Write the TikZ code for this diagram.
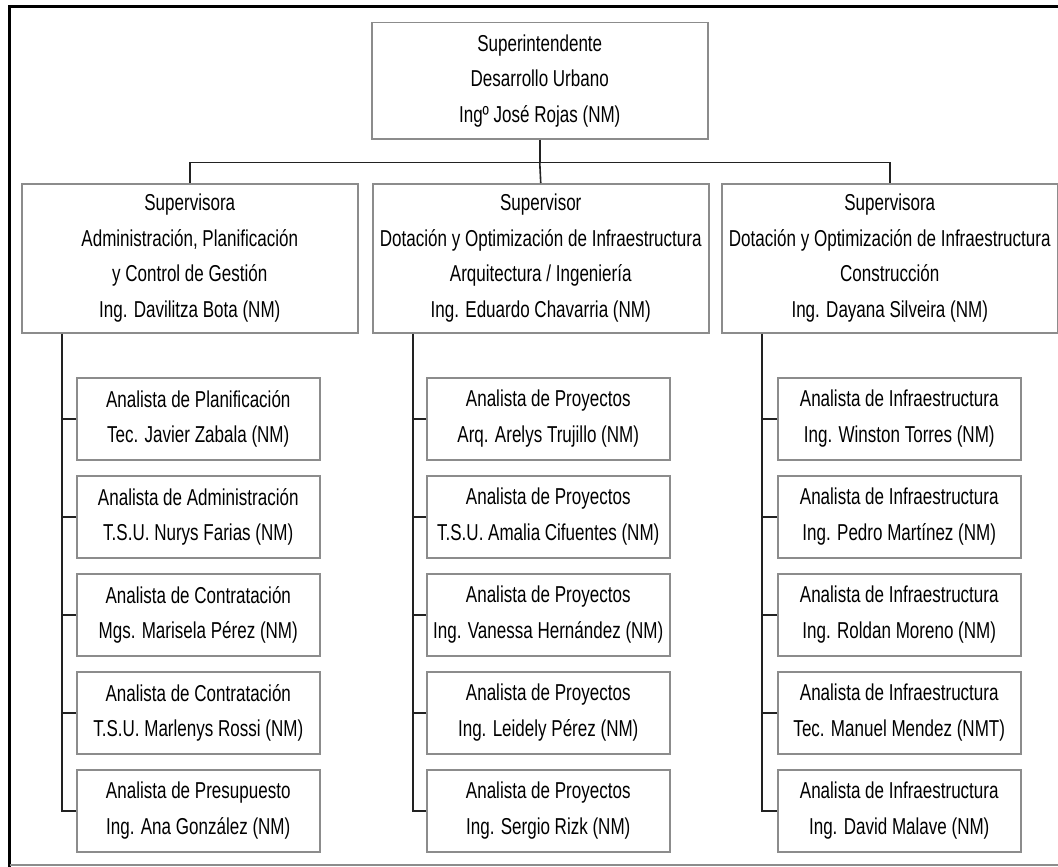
\documentclass[tikz,border=0pt]{standalone}
\usepackage{fontspec}
\setmainfont[FakeStretch=0.74]{Liberation Sans}
\definecolor{boxgray}{HTML}{8C8C8C}
\definecolor{congray}{HTML}{222222}
\begin{document}
\begin{tikzpicture}[x=1pt,y=-1pt,
  box/.style={draw=boxgray,line width=1.5pt,fill=white,inner sep=0pt,align=center,
    font=\fontsize{23}{35.6}\selectfont,anchor=north west},
  sup/.style={box,minimum width=336pt,minimum height=149pt},
  kid/.style={box,minimum width=243pt,minimum height=82pt},
  con/.style={draw=congray,line width=1.6pt}]
\useasboundingbox[fill=white] (0,0) rectangle (1058,867);
% frame
\draw[line width=3pt,black] (9.5,867) -- (9.5,7) -- (1058,7);
\draw[line width=1.2pt,boxgray] (9.5,865) -- (1058,865);
% top
\node[box,minimum width=336pt,minimum height=116pt] (top) at (371,22)
  {Superintendente\\Desarrollo Urbano\\Ingº José Rojas (NM)};
% supervisors
\node[sup] (s1) at (21,183) {Supervisora\\Administración, Planificación\\y Control de Gestión\\Ing. Davilitza Bota (NM)};
\node[sup] (s2) at (372,183) {Supervisor\\Dotación y Optimización de Infraestructura\\Arquitectura / Ingeniería\\Ing. Eduardo Chavarria (NM)};
\node[sup] (s3) at (721,183) {Supervisora\\Dotación y Optimización de Infraestructura\\Construcción\\Ing. Dayana Silveira (NM)};
% column 1
\node[kid] (a1) at (76,377) {Analista de Planificación\\Tec. Javier Zabala (NM)};
\node[kid] (a2) at (76,475) {Analista de Administración\\T.S.U. Nurys Farias (NM)};
\node[kid] (a3) at (76,573) {Analista de Contratación\\Mgs. Marisela Pérez (NM)};
\node[kid] (a4) at (76,671) {Analista de Contratación\\T.S.U. Marlenys Rossi (NM)};
\node[kid] (a5) at (76,769) {Analista de Presupuesto\\Ing. Ana González (NM)};
% column 2
\node[kid] (b1) at (426,377) {Analista de Proyectos\\Arq. Arelys Trujillo (NM)};
\node[kid] (b2) at (426,475) {Analista de Proyectos\\T.S.U. Amalia Cifuentes (NM)};
\node[kid] (b3) at (426,573) {Analista de Proyectos\\Ing. Vanessa Hernández (NM)};
\node[kid] (b4) at (426,671) {Analista de Proyectos\\Ing. Leidely Pérez (NM)};
\node[kid] (b5) at (426,769) {Analista de Proyectos\\Ing. Sergio Rizk (NM)};
% column 3
\node[kid] (c1) at (777,377) {Analista de Infraestructura\\Ing. Winston Torres (NM)};
\node[kid] (c2) at (777,475) {Analista de Infraestructura\\Ing. Pedro Martínez (NM)};
\node[kid] (c3) at (777,573) {Analista de Infraestructura\\Ing. Roldan Moreno (NM)};
\node[kid] (c4) at (777,671) {Analista de Infraestructura\\Tec. Manuel Mendez (NMT)};
\node[kid] (c5) at (777,769) {Analista de Infraestructura\\Ing. David Malave (NM)};
% connectors top
\draw[con] (top.south) -- ++(0,23) coordinate (bus);
\draw[con] (s1.north) |- (bus) -| (s3.north);
\draw[con] (bus) -- (s2.north);
% column connectors
\foreach \s/\c in {s1/a,s2/b,s3/c}{
  \draw[con] ([xshift=41pt]\s.south west) |- (\c5.west);
  \foreach \k in {1,...,4}{
    \draw[con] (\c\k.west) -- ++(-14,0);
  }
}
\end{tikzpicture}
\end{document}
